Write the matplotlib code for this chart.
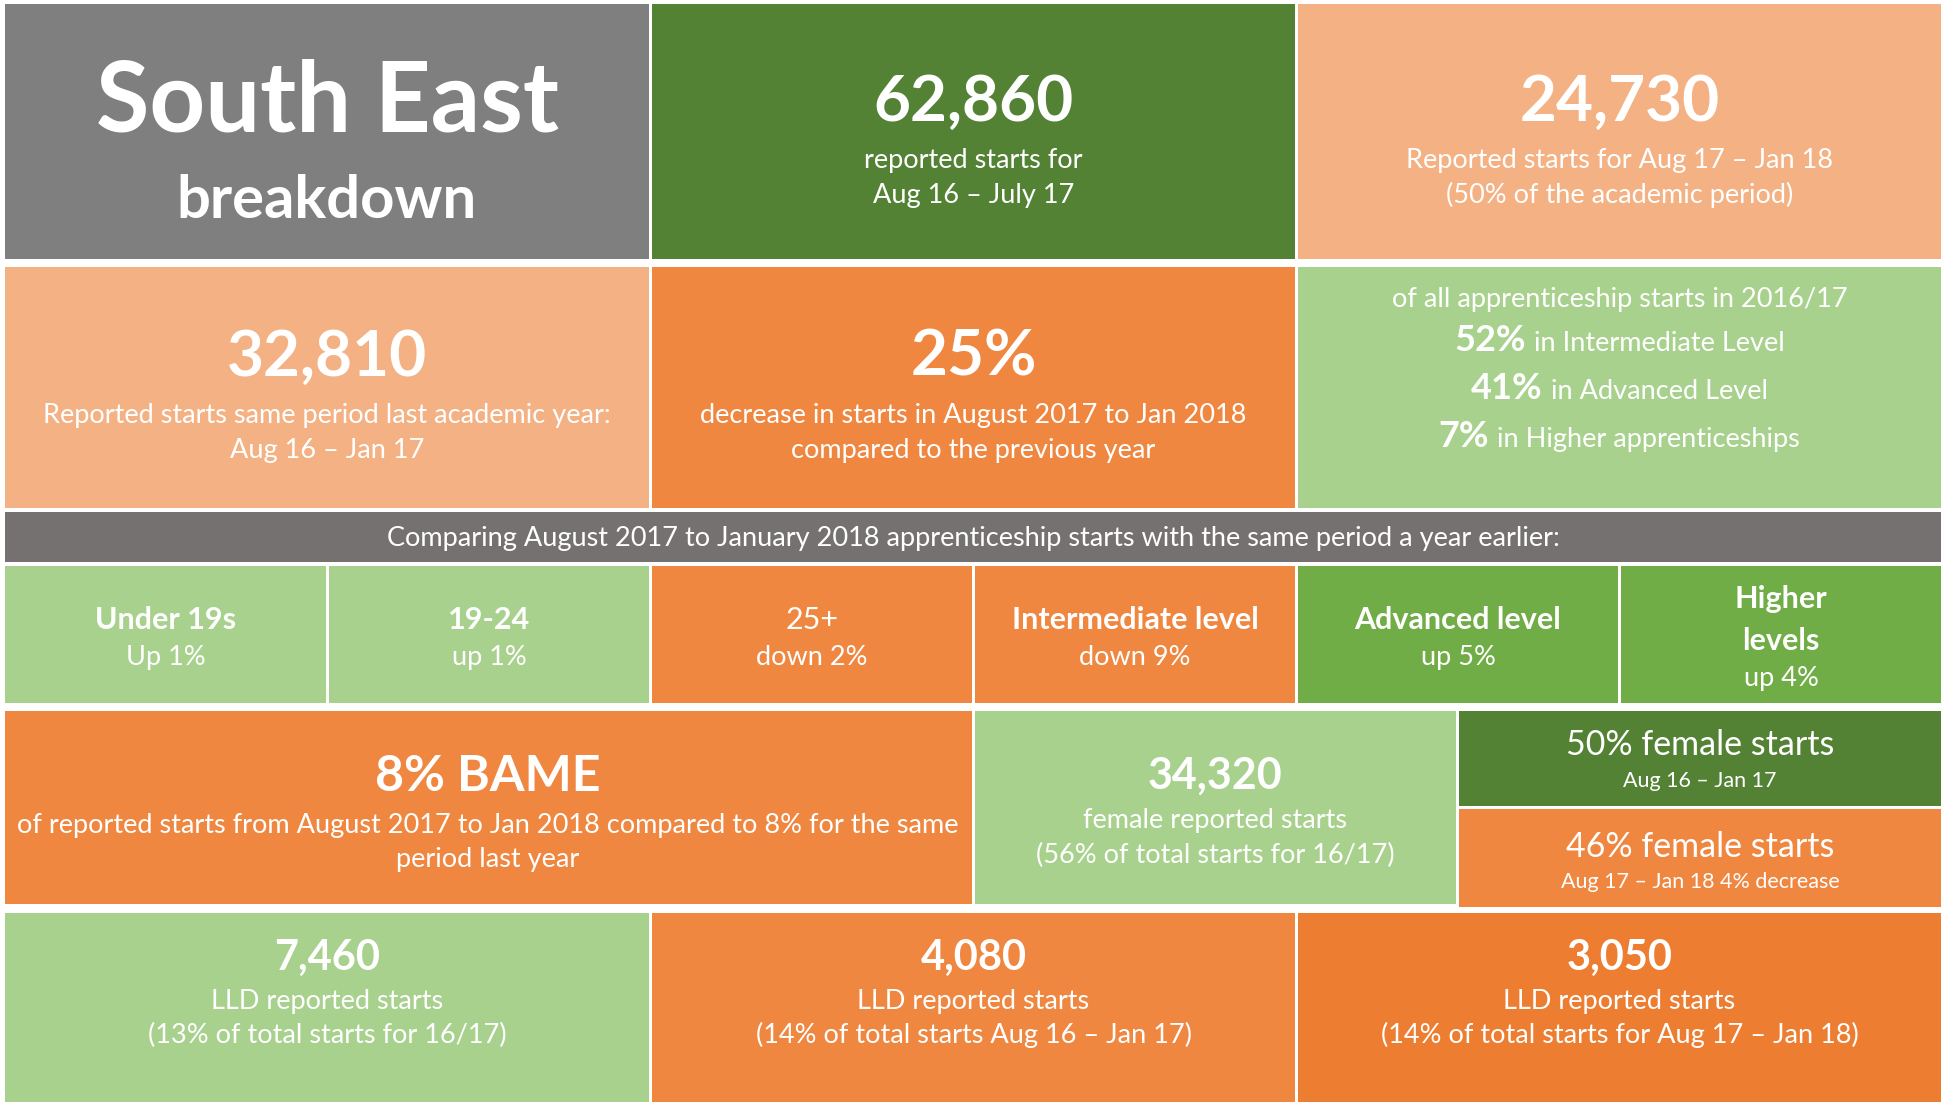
import matplotlib
matplotlib.use("Agg")
import matplotlib.pyplot as plt
from matplotlib.patches import Rectangle

plt.rcParams['font.family'] = ['Lato', 'DejaVu Sans']

# ---- content ----
region = ["South East", "breakdown"]

headline_values = ["62,860", "24,730", "32,810", "25%"]
headline_notes = [
    ["reported starts for", "Aug 16 – July 17"],
    ["Reported starts for Aug 17 – Jan 18", "(50% of the academic period)"],
    ["Reported starts same period last academic year:", "Aug 16 – Jan 17"],
    ["decrease in starts in August 2017 to Jan 2018", "compared to the previous year"],
]

level_intro = "of all apprenticeship starts in 2016/17"
level_shares = ["52%", "41%", "7%"]
level_names = ["in Intermediate Level", "in Advanced Level", "in Higher apprenticeships"]

comparison_title = ("Comparing August 2017 to January 2018 apprenticeship starts "
                    "with the same period a year earlier:")
group_names = ["Under 19s", "19-24", "25+", "Intermediate level", "Advanced level", "Higher\nlevels"]
group_changes = ["Up 1%", "up 1%", "down 2%", "down 9%", "up 5%", "up 4%"]

bame_value = "8% BAME"
bame_notes = ["of reported starts from August 2017 to Jan 2018 compared to 8% for the same",
              "period last year"]

female_value = "34,320"
female_notes = ["female reported starts", "(56% of total starts for 16/17)"]
female_shares = ["50% female starts", "46% female starts"]
female_share_notes = ["Aug 16 – Jan 17", "Aug 17 – Jan 18 4% decrease"]

lld_values = ["7,460", "4,080", "3,050"]
lld_notes = [
    ["LLD reported starts", "(13% of total starts for 16/17)"],
    ["LLD reported starts", "(14% of total starts Aug 16 – Jan 17)"],
    ["LLD reported starts", "(14% of total starts for Aug 17 – Jan 18)"],
]

# ---- colours ----
GREY = "#7F7F7F"
BAND = "#767171"
DKGREEN = "#548235"
GREEN = "#70AD47"
LTGREEN = "#A9D18E"
SALMON = "#F4B183"
ORANGE = "#EF8741"
ORANGE2 = "#ED7D31"

# ---- layout (pixels, y down) ----
W, H = 1941, 1105
cols3 = [(5, 649), (652, 1295), (1298, 1941)]
cols6 = [(5, 326), (329, 649), (652, 972), (975, 1295), (1298, 1618), (1621, 1941)]
group_colors = [LTGREEN, LTGREEN, ORANGE, ORANGE, GREEN, GREEN]
group_bold = [True, True, False, True, True, True]
TXT = 19.5  # body text size

fig = plt.figure(figsize=(W / 100, H / 100), dpi=100)
ax = fig.add_axes([0, 0, 1, 1])
ax.set_xlim(0, W)
ax.set_ylim(H, 0)
ax.axis('off')


def tile(x0, y0, x1, y1, color):
    ax.add_patch(Rectangle((x0, y0), x1 - x0, y1 - y0, color=color, lw=0))


def say(x, y, s, size, bold=False):
    return ax.text(x, y, s, fontsize=size, fontweight='bold' if bold else 'normal',
                   color='white', ha='center', va='baseline')


renderer = fig.canvas.get_renderer()


def mixed(cx, y, bold_part, rest, big, small, gap=8):
    # bold figure followed by regular text, centred together
    t1 = ax.text(0, y, bold_part, fontsize=big, fontweight='bold', color='white',
                 ha='left', va='baseline')
    t2 = ax.text(0, y, rest, fontsize=small, color='white', ha='left', va='baseline')
    w1 = t1.get_window_extent(renderer).width
    w2 = t2.get_window_extent(renderer).width
    x0 = cx - (w1 + gap + w2) / 2
    t1.set_x(x0)
    t2.set_x(x0 + w1 + gap)


def mid(c):
    return (c[0] + c[1]) / 2


# row 1
tile(cols3[0][0], 4, cols3[0][1], 259, GREY)
tile(cols3[1][0], 4, cols3[1][1], 259, DKGREEN)
tile(cols3[2][0], 4, cols3[2][1], 259, SALMON)
say(mid(cols3[0]), 132, region[0], 70, True)
say(mid(cols3[0]), 218, region[1], 43, True)

# row 2
tile(cols3[0][0], 267, cols3[0][1], 508, SALMON)
tile(cols3[1][0], 267, cols3[1][1], 508, ORANGE)
tile(cols3[2][0], 267, cols3[2][1], 508, LTGREEN)

head_pos = [(cols3[1], 121), (cols3[2], 121), (cols3[0], 376), (cols3[1], 376)]
for val, notes, (c, base) in zip(headline_values, headline_notes, head_pos):
    say(mid(c), base, val, 46, True)
    for i, line in enumerate(notes):
        say(mid(c), base + 47 + 35 * i, line, TXT)

say(mid(cols3[2]), 307, level_intro, TXT)
for i, (p, n) in enumerate(zip(level_shares, level_names)):
    mixed(mid(cols3[2]), 351 + 48 * i, p, n, 26, TXT)

# comparison band
tile(5, 512, 1941, 562, BAND)
say(973, 546, comparison_title, TXT)

for c, col, name, change, b in zip(cols6, group_colors, group_names, group_changes, group_bold):
    tile(c[0], 566, c[1], 703, col)
    lines = name.split("\n")
    first = 629 - 21 * (len(lines) - 1)
    for i, line in enumerate(lines):
        say(mid(c), first + 42 * i, line, 22, b)
    say(mid(c), first + 42 * (len(lines) - 1) + 36, change, TXT)

# row 5
tile(5, 711, 972, 904, ORANGE)
tile(975, 711, 1456, 904, LTGREEN)
tile(1459, 711, 1941, 806, DKGREEN)
tile(1459, 809, 1941, 907, ORANGE)

say(488, 791, bame_value, 36, True)
for i, line in enumerate(bame_notes):
    say(488, 833 + 34 * i, line, TXT)

say(1215, 789, female_value, 31, True)
for i, line in enumerate(female_notes):
    say(1215, 828 + 35 * i, line, TXT)

for i, (s, n) in enumerate(zip(female_shares, female_share_notes)):
    say(1700, 755 + 102 * i, s, 24.5)
    say(1700, 787 + 101 * i, n, 15.5)

# row 6
lld_colors = [LTGREEN, ORANGE, ORANGE2]
for c, col, val, notes in zip(cols3, lld_colors, lld_values, lld_notes):
    tile(c[0], 913, c[1], 1102, col)
    say(mid(c), 970, val, 30, True)
    for i, line in enumerate(notes):
        say(mid(c), 1009 + 34 * i, line, TXT)

fig.savefig("out.png", dpi=100)
